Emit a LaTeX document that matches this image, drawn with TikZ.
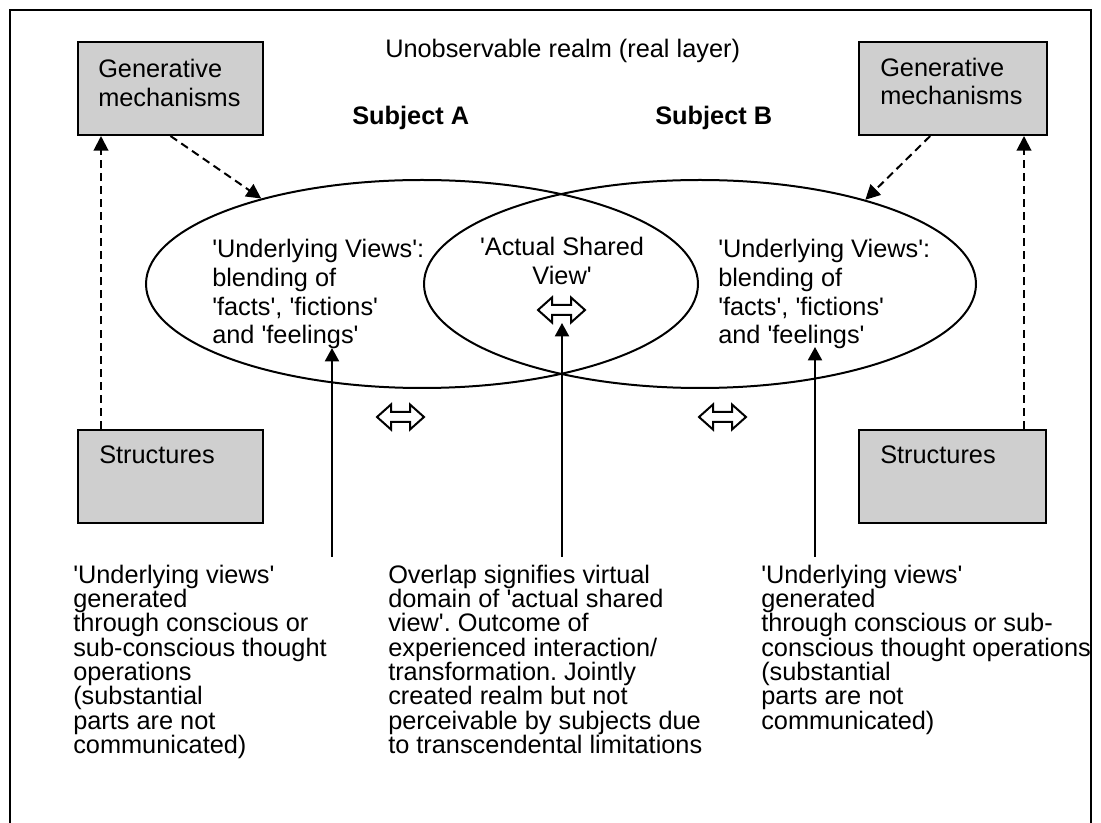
\documentclass[tikz,border=0pt]{standalone}
\usepackage{fontspec}
\setmainfont{Liberation Sans}[Ligatures=TeXOff]
\usetikzlibrary{shapes.geometric,arrows.meta,calc}
\frenchspacing
\begin{document}
\begin{tikzpicture}[x=0.75pt,y=-0.75pt,
  lw/.style={line width=1.5pt},
  every node/.style={inner sep=0pt,font=\fontsize{19}{21.6}\selectfont},
  greybox/.style={draw,lw,fill=black!19,rectangle,minimum height=69.75pt},
  oval/.style={draw,lw,ellipse,minimum width=414pt,minimum height=156pt},
  txt/.style={anchor=north west,align=left},
  note/.style={anchor=north west,align=left,font=\fontsize{19}{18.2}\selectfont},
  dasharrow/.style={lw,dash pattern=on 6pt off 3.8pt,-{Triangle[length=11pt,width=11pt]}},
  solidarrow/.style={lw,-{Triangle[length=10pt,width=10.5pt]}},
  dblarrow/.pic={\draw[lw,line join=miter]
     (-23.5,0) -- (-9.5,-12.5) -- (-9.5,-5) -- (9.5,-5) -- (9.5,-12.5) -- (23.5,0)
     -- (9.5,12.5) -- (9.5,5) -- (-9.5,5) -- (-9.5,12.5) -- cycle;}]
\useasboundingbox (0,0) rectangle (1101,823);

% outer frame (open at the bottom edge)
\draw[lw] (10,823) -- (10,10) -- (1091,10) -- (1091,823);

% grey boxes
\node[greybox,minimum width=138.75pt] (genL) at (170.5,88.5) {};
\node[greybox,minimum width=141pt]    (genR) at (953,88.5) {};
\node[greybox,minimum width=138.75pt] (strL) at (170.5,476.5) {};
\node[greybox,minimum width=140.25pt] (strR) at (952.5,476.5) {};
\node[txt] (genLt) at (98,58.8) {Generative\\mechanisms};
\node[txt] (genRt) at (880,57.5) {Generative\\mechanisms};
\node[anchor=base west] (strLt) at (99,464) {Structures};
\node[anchor=base west] (strRt) at (880,464) {Structures};

% headings
\node[anchor=base west] (realm) at (385,58) {Unobservable realm (real layer)};
\node[anchor=base west,font=\fontsize{19}{21.6}\selectfont\bfseries] (subA) at (352,125) {Subject A};
\node[anchor=base west,font=\fontsize{19}{21.6}\selectfont\bfseries] (subB) at (655,125) {Subject B};

% the two overlapping views
\node[oval] (ellA) at (422,284) {};
\node[oval] (ellB) at (700,284) {};
\node[txt] (viewA) at (212,238.8) {'Underlying Views':\\blending of\\'facts', 'fictions'\\and 'feelings'};
\node[anchor=north,align=center] (shared) at (562,236.8) {'Actual Shared\\View'};
\node[txt] (viewB) at (718,238.8) {'Underlying Views':\\blending of\\'facts', 'fictions'\\and 'feelings'};

% interaction arrows
\pic at (400.5,417) {dblarrow};
\pic at (561.5,310) {dblarrow};
\pic at (722.5,417) {dblarrow};

% dashed links between boxes and views
\draw[dasharrow] (genL.south) -- (ellA.152);
\draw[dasharrow] ($(genR.south west)!0.38!(genR.south east)$) -- (ellB.27);
\draw[dasharrow] ($(strL.north west)+(24,0)$) -- ($(genL.south west)+(24,0)$);
\draw[dasharrow] ($(strR.north east)+(-23,0)$) -- ($(genR.south east)+(-24,0)$);

% explanatory notes
\node[note] (noteA) at (73,564.8) {'Underlying views'\\generated\\through conscious or\\sub-conscious thought\\operations\\(substantial\\parts are not\\communicated)};
\node[note] (noteM) at (388,564.8) {Overlap signifies virtual\\domain of 'actual shared\\view'. Outcome of\\experienced interaction/\\transformation. Jointly\\created realm but not\\perceivable by subjects due\\to transcendental limitations};
\node[note] (noteB) at (761,564.8) {'Underlying views'\\generated\\through conscious or sub-\\conscious thought operations\\(substantial\\parts are not\\communicated)};

\coordinate (footA) at (332,557);
\coordinate (tipA) at (332,348);
\coordinate (footM) at (562,557);
\coordinate (tipM) at (562,323);
\coordinate (footB) at (815,557);
\coordinate (tipB) at (815,347);
\draw[solidarrow] (footA) -- (tipA);
\draw[solidarrow] (footM) -- (tipM);
\draw[solidarrow] (footB) -- (tipB);
\end{tikzpicture}
\end{document}
